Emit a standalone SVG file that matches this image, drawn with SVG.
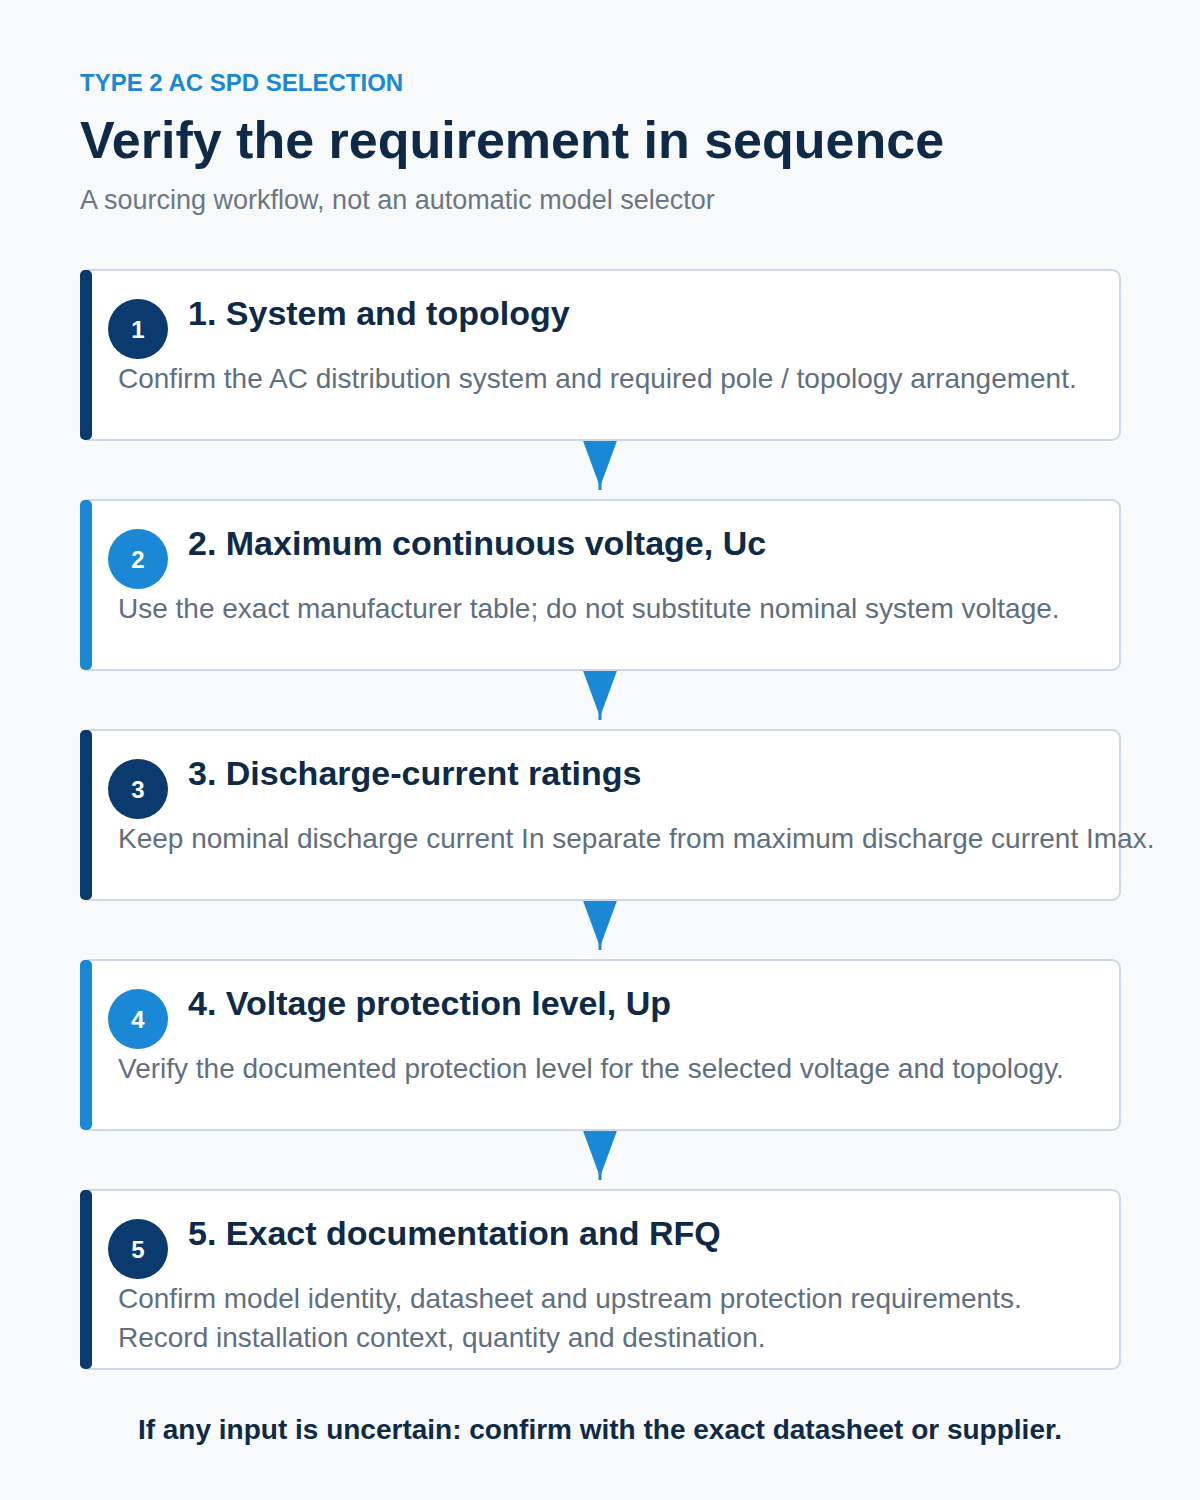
<svg xmlns="http://www.w3.org/2000/svg" width="1200" height="1500" viewBox="0 0 1200 1500">
<defs>
<style>
.bg{fill:#f7f9fb}
.card{fill:#ffffff;stroke:#cdd8e4;stroke-width:2}
.dark{fill:#0b3a6e}
.blue{fill:#1a88d4}
.num{font-family:"Liberation Sans",Arial,sans-serif;font-weight:bold;font-size:24px;fill:#ffffff;text-anchor:middle}
.ttl{font-family:"Liberation Sans",Arial,sans-serif;font-weight:bold;font-size:34px;fill:#0e2a47}
.desc{font-family:"Liberation Sans",Arial,sans-serif;font-size:28px;fill:#5f6f80}
.conn{stroke:#1a88d4;stroke-width:3;fill:none}
.head{fill:#1a88d4}
</style>
</defs>
<rect class="bg" x="0" y="0" width="1200" height="1500"/>
<g id="header">
<text x="80" y="91" font-family="Liberation Sans, Arial, sans-serif" font-weight="bold" font-size="24" fill="#1a88d4">TYPE 2 AC SPD SELECTION</text>
<text x="80" y="158" font-family="Liberation Sans, Arial, sans-serif" font-weight="bold" font-size="52" fill="#0e2a47">Verify the requirement in sequence</text>
<text x="80" y="209" font-family="Liberation Sans, Arial, sans-serif" font-size="27" fill="#6b7785">A sourcing workflow, not an automatic model selector</text>
</g>
<g id="connectors">
<line class="conn" x1="600" y1="440" x2="600" y2="490"/>
<polygon class="head" points="582,438 618,438 600,487"/>
<line class="conn" x1="600" y1="670" x2="600" y2="720"/>
<polygon class="head" points="582,668 618,668 600,717"/>
<line class="conn" x1="600" y1="900" x2="600" y2="950"/>
<polygon class="head" points="582,898 618,898 600,947"/>
<line class="conn" x1="600" y1="1130" x2="600" y2="1180"/>
<polygon class="head" points="582,1128 618,1128 600,1177"/>
</g>
<g id="step1">
<rect class="card" x="81" y="270" width="1039" height="170" rx="8"/>
<rect class="dark" x="80" y="270" width="12" height="170" rx="5"/>
<circle class="dark" cx="138" cy="329" r="30"/>
<text class="num" x="138" y="338">1</text>
<text class="ttl" x="188" y="325">1. System and topology</text>
<text class="desc" x="118" y="388">Confirm the AC distribution system and required pole / topology arrangement.</text>
</g>
<g id="step2">
<rect class="card" x="81" y="500" width="1039" height="170" rx="8"/>
<rect class="blue" x="80" y="500" width="12" height="170" rx="5"/>
<circle class="blue" cx="138" cy="559" r="30"/>
<text class="num" x="138" y="568">2</text>
<text class="ttl" x="188" y="555">2. Maximum continuous voltage, Uc</text>
<text class="desc" x="118" y="618">Use the exact manufacturer table; do not substitute nominal system voltage.</text>
</g>
<g id="step3">
<rect class="card" x="81" y="730" width="1039" height="170" rx="8"/>
<rect class="dark" x="80" y="730" width="12" height="170" rx="5"/>
<circle class="dark" cx="138" cy="789" r="30"/>
<text class="num" x="138" y="798">3</text>
<text class="ttl" x="188" y="785">3. Discharge-current ratings</text>
<text class="desc" x="118" y="848">Keep nominal discharge current In separate from maximum discharge current Imax.</text>
</g>
<g id="step4">
<rect class="card" x="81" y="960" width="1039" height="170" rx="8"/>
<rect class="blue" x="80" y="960" width="12" height="170" rx="5"/>
<circle class="blue" cx="138" cy="1019" r="30"/>
<text class="num" x="138" y="1028">4</text>
<text class="ttl" x="188" y="1015">4. Voltage protection level, Up</text>
<text class="desc" x="118" y="1078">Verify the documented protection level for the selected voltage and topology.</text>
</g>
<g id="step5">
<rect class="card" x="81" y="1190" width="1039" height="179" rx="8"/>
<rect class="dark" x="80" y="1190" width="12" height="179" rx="5"/>
<circle class="dark" cx="138" cy="1249" r="30"/>
<text class="num" x="138" y="1258">5</text>
<text class="ttl" x="188" y="1245">5. Exact documentation and RFQ</text>
<text class="desc" x="118" y="1308">Confirm model identity, datasheet and upstream protection requirements.</text>
<text class="desc" x="118" y="1347">Record installation context, quantity and destination.</text>
</g>
<g id="footer">
<text x="600" y="1439" text-anchor="middle" font-family="Liberation Sans, Arial, sans-serif" font-weight="bold" font-size="28" fill="#0e2a47">If any input is uncertain: confirm with the exact datasheet or supplier.</text>
</g>
</svg>
